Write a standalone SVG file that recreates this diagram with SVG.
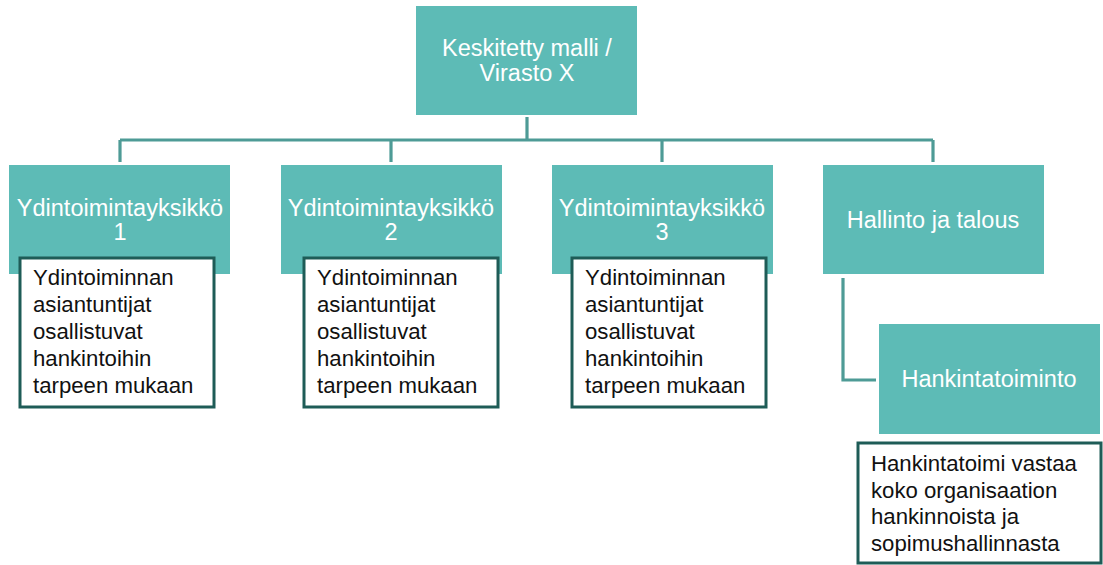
<svg xmlns="http://www.w3.org/2000/svg" width="1103" height="565" viewBox="0 0 1103 565">
  <defs>
    <style>
      .unit { fill: #5dbbb6; }
      .unit-label { font-family: "Liberation Sans", Arial, sans-serif; font-size: 23.5px; fill: #ffffff; text-anchor: middle; }
      .note { fill: #ffffff; stroke: #1e5c57; stroke-width: 3; }
      .note-label { font-family: "Liberation Sans", Arial, sans-serif; font-size: 22.2px; fill: #111111; }
      .link { fill: none; stroke: #4e9b96; stroke-width: 3.2; }
    </style>
  </defs>
  <rect width="1103" height="565" fill="#ffffff"/>

  <!-- connectors -->
  <g id="connectors">
    <path class="link" d="M527,117 V140"/>
    <path class="link" d="M120,140 H933"/>
    <path class="link" d="M120,140 V162"/>
    <path class="link" d="M391,140 V162"/>
    <path class="link" d="M662,140 V162"/>
    <path class="link" d="M933,140 V162"/>
    <path class="link" d="M843,278 V380 H876"/>
  </g>

  <!-- root -->
  <g id="root">
    <rect class="unit" x="416" y="6" width="221" height="109"/>
    <text class="unit-label" x="527" y="56">Keskitetty malli /</text>
    <text class="unit-label" x="527" y="81">Virasto X</text>
  </g>

  <!-- core units -->
  <g id="unit1">
    <rect class="unit" x="9" y="165" width="221" height="109"/>
    <text class="unit-label" x="120" y="216">Ydintoimintayksikkö</text>
    <text class="unit-label" x="120" y="240">1</text>
  </g>
  <g id="note1">
    <rect class="note" x="20" y="258" width="194" height="149"/>
    <text class="note-label" x="33" y="285">Ydintoiminnan</text>
    <text class="note-label" x="33" y="312">asiantuntijat</text>
    <text class="note-label" x="33" y="339">osallistuvat</text>
    <text class="note-label" x="33" y="366">hankintoihin</text>
    <text class="note-label" x="33" y="393">tarpeen mukaan</text>
  </g>

  <g id="unit2">
    <rect class="unit" x="281" y="165" width="221" height="109"/>
    <text class="unit-label" x="391" y="216">Ydintoimintayksikkö</text>
    <text class="unit-label" x="391" y="240">2</text>
  </g>
  <g id="note2">
    <rect class="note" x="304" y="258" width="194" height="149"/>
    <text class="note-label" x="317" y="285">Ydintoiminnan</text>
    <text class="note-label" x="317" y="312">asiantuntijat</text>
    <text class="note-label" x="317" y="339">osallistuvat</text>
    <text class="note-label" x="317" y="366">hankintoihin</text>
    <text class="note-label" x="317" y="393">tarpeen mukaan</text>
  </g>

  <g id="unit3">
    <rect class="unit" x="552" y="165" width="221" height="109"/>
    <text class="unit-label" x="662" y="216">Ydintoimintayksikkö</text>
    <text class="unit-label" x="662" y="240">3</text>
  </g>
  <g id="note3">
    <rect class="note" x="572" y="258" width="194" height="149"/>
    <text class="note-label" x="585" y="285">Ydintoiminnan</text>
    <text class="note-label" x="585" y="312">asiantuntijat</text>
    <text class="note-label" x="585" y="339">osallistuvat</text>
    <text class="note-label" x="585" y="366">hankintoihin</text>
    <text class="note-label" x="585" y="393">tarpeen mukaan</text>
  </g>

  <!-- administration branch -->
  <g id="admin">
    <rect class="unit" x="823" y="165" width="221" height="109"/>
    <text class="unit-label" x="933" y="228">Hallinto ja talous</text>
  </g>
  <g id="procurement">
    <rect class="unit" x="879" y="324" width="221" height="110"/>
    <text class="unit-label" x="989" y="387">Hankintatoiminto</text>
  </g>
  <g id="note4">
    <rect class="note" x="858" y="443" width="243" height="120"/>
    <text class="note-label" x="871" y="471">Hankintatoimi vastaa</text>
    <text class="note-label" x="871" y="498">koko organisaation</text>
    <text class="note-label" x="871" y="524">hankinnoista ja</text>
    <text class="note-label" x="871" y="551">sopimushallinnasta</text>
  </g>
</svg>
